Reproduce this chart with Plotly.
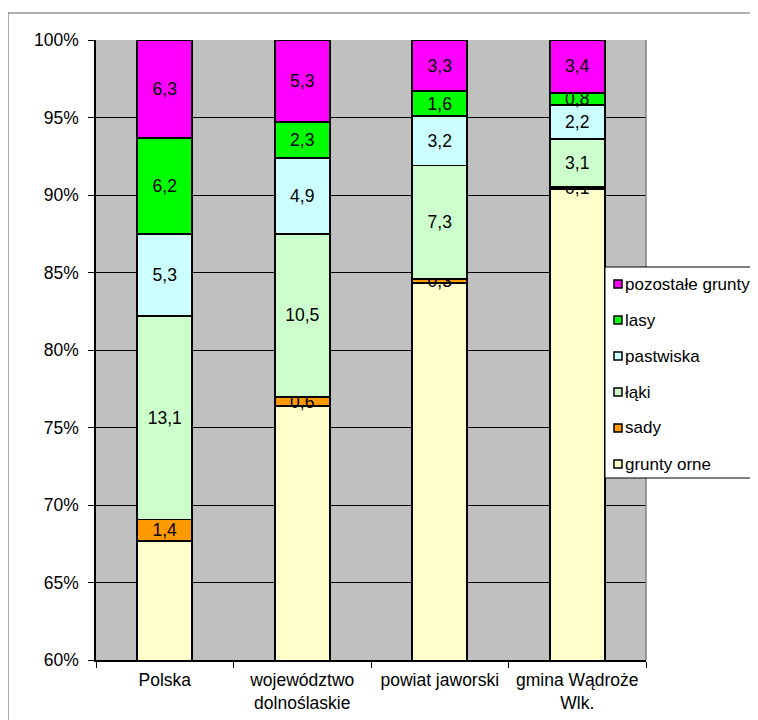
import plotly.graph_objects as go

categories = ["Polska", "województwo<br>dolnoślaskie", "powiat jaworski", "gmina Wądroże<br>Wlk."]
series_names = ["grunty orne", "sady", "łąki", "pastwiska", "lasy", "pozostałe grunty"]
series_colors = ["#FFFFCC", "#FF9900", "#CCFFCC", "#CCFFFF", "#00FF00", "#FF00FF"]
grunty_orne = [67.6, 76.3, 84.3, 90.5]
sady = [1.4, 0.6, 0.3, 0.1]
laki = [13.1, 10.5, 7.3, 3.1]
pastwiska = [5.3, 4.9, 3.2, 2.2]
lasy = [6.2, 2.3, 1.6, 0.8]
pozostale = [6.3, 5.3, 3.3, 3.4]
y_ticks = [60, 65, 70, 75, 80, 85, 90, 95, 100]

series_values = [grunty_orne, sady, laki, pastwiska, lasy, pozostale]

FONT = "Liberation Sans, Arial, sans-serif"
OFF = 8                      # page body margin in front of the figure
W, H = 758 - OFF, 720 - OFF  # figure size so that it fills the window
PLOT_L, PLOT_R, PLOT_T, PLOT_B = 96, 646, 40, 660  # plot area in page pixels
ML, MT = PLOT_L - OFF, PLOT_T - OFF
PW, PH = PLOT_R - PLOT_L, PLOT_B - PLOT_T
MR, MB = W - ML - PW, H - MT - PH


def px_x(px):
    return (px - PLOT_L) / PW


def px_y(py):
    return (PLOT_B - py) / PH


fig = go.Figure()
for name, color, vals in zip(series_names, series_colors, series_values):
    fig.add_trace(go.Bar(
        name=name,
        x=categories,
        y=vals,
        width=0.4,
        marker=dict(color=color, line=dict(color="black", width=1.8)),
        text=[f"{v:.1f}".replace(".", ",") for v in vals],
        textposition="inside",
        insidetextanchor="middle",
        textangle=0,
        constraintext="none",
        textfont=dict(color="black", size=17.5, family=FONT),
        showlegend=False,
        hoverinfo="skip",
    ))

shapes = []
annotations = []
# outer chart border
shapes.append(dict(type="rect", xref="paper", yref="paper",
                   x0=px_x(8), x1=px_x(770), y0=px_y(730), y1=px_y(13),
                   line=dict(color="#606060", width=1), fillcolor="rgba(0,0,0,0)", layer="below"))
# plot area right border
shapes.append(dict(type="line", xref="paper", yref="paper", x0=1, x1=1, y0=0, y1=1,
                   line=dict(color="#808080", width=1.5)))

# legend (drawn manually to match the original compact layout)
leg_left, leg_top, leg_bottom, leg_right = 605, 267, 478, 770
shapes.append(dict(type="rect", xref="paper", yref="paper",
                   x0=px_x(leg_left), x1=px_x(leg_right), y0=px_y(leg_bottom), y1=px_y(leg_top),
                   line=dict(color="black", width=1), fillcolor="white"))
first_y, step = 284, 36.0
for i, (name, color) in enumerate(reversed(list(zip(series_names, series_colors)))):
    cy = first_y + i * step
    shapes.append(dict(type="rect", xref="paper", yref="paper",
                       x0=px_x(614), x1=px_x(622), y0=px_y(cy + 4), y1=px_y(cy - 4),
                       line=dict(color="black", width=1.5), fillcolor=color))
    annotations.append(dict(xref="paper", yref="paper", x=px_x(623), y=px_y(cy),
                            xanchor="left", yanchor="middle", text=name, showarrow=False,
                            font=dict(size=17, color="black", family=FONT)))

fig.update_layout(
    barmode="stack",
    barnorm="percent",
    width=W, height=H,
    margin=dict(l=ML, r=MR, t=MT, b=MB, autoexpand=False),
    paper_bgcolor="white",
    plot_bgcolor="#C0C0C0",
    font=dict(family=FONT, size=17, color="black"),
    uniformtext=dict(mode="show", minsize=17),
    showlegend=False,
    shapes=shapes,
    annotations=annotations,
    xaxis=dict(
        type="category",
        tickson="boundaries",
        ticks="outside", ticklen=6, tickcolor="black", tickwidth=1,
        ticklabelstandoff=3,
        showline=True, linecolor="black", linewidth=1.5,
        showgrid=False,
        tickfont=dict(size=17.5, family=FONT, color="black"),
    ),
    yaxis=dict(
        range=[60, 100],
        tickvals=y_ticks,
        ticktext=[f"{t}%" for t in y_ticks],
        ticks="outside", ticklen=6, tickcolor="black", tickwidth=1,
        ticklabelstandoff=6,
        showline=True, linecolor="black", linewidth=1.5,
        showgrid=True, gridcolor="black", gridwidth=1,
        zeroline=False,
        tickfont=dict(size=17.5, family=FONT, color="black"),
    ),
)

fig.write_html("out.html")
